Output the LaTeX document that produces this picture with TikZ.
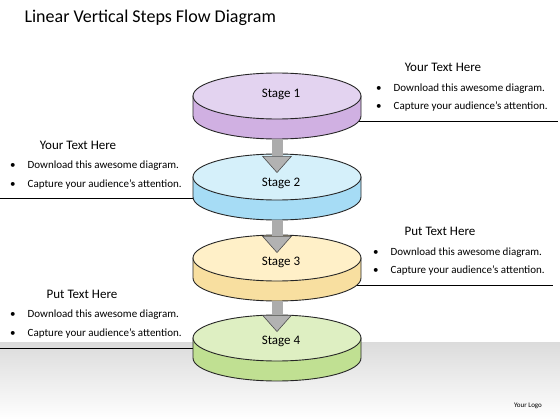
\documentclass[tikz,border=0pt]{standalone}
\usepackage{fontspec}
\setmainfont{Carlito}
\usetikzlibrary{arrows.meta}

\definecolor{topA}{RGB}{227,211,240}
\definecolor{sideA}{RGB}{208,176,226}
\definecolor{topB}{RGB}{213,240,250}
\definecolor{sideB}{RGB}{166,220,245}
\definecolor{topC}{RGB}{255,240,200}
\definecolor{sideC}{RGB}{248,223,160}
\definecolor{topD}{RGB}{222,239,194}
\definecolor{sideD}{RGB}{192,224,146}

\tikzset{
  disk/.style = {draw=black!85, line width=0.9pt},
  stage/.style = {font=\fontsize{13}{15}\selectfont},
  head/.style = {font=\fontsize{13}{15}\selectfont},
  item/.style = {anchor=west, inner sep=0pt, font=\fontsize{11}{13}\selectfont},
  rule/.style = {draw=black, line width=0.7pt},
  conn/.style = {draw=gray!65, line width=11pt,
    -{Triangle[width=30pt, length=17pt, fill=gray!60, color=black!70, line width=0.6pt]}}
}

\begin{document}
\begin{tikzpicture}[x=1pt, y=-1pt]
\useasboundingbox (0,0) rectangle (560,420);

% floor
\shade[top color=gray!28, bottom color=white] (0,342) rectangle (560,420);

% title
\node[anchor=west, font=\fontsize{18}{21}\selectfont] (title) at (21,18) {Linear Vertical Steps Flow Diagram};

% lines under the text blocks
\draw[rule] (330,121) -- (558,121);
\draw[rule] (0,198) -- (230,198);
\draw[rule] (330,285) -- (553,285);
\draw[rule] (0,348) -- (230,348);

% the four disks
\foreach \cy/\tc/\sc in {96/topA/sideA, 177/topB/sideB, 258/topC/sideC, 338/topD/sideD} {
  \filldraw[disk, fill=\sc] (193,\cy) -- (193,{\cy+20})
    arc[start angle=180, end angle=0, x radius=84, y radius=23] -- (361,\cy) -- cycle;
  \filldraw[disk, fill=\tc] (277,\cy) ellipse[x radius=84, y radius=23];
}

\coordinate (b1) at (277,139);
\coordinate (b2) at (277,220);
\coordinate (b3) at (277,301);
\coordinate (t2) at (277,173);
\coordinate (t3) at (277,253);
\coordinate (t4) at (277,332);

\draw[conn] (b1) -- (t2);
\draw[conn] (b2) -- (t3);
\draw[conn] (b3) -- (t4);

\node[stage] (s1) at (281,94) {Stage 1};
\node[stage] (s2) at (281,183) {Stage 2};
\node[stage] (s3) at (281,262) {Stage 3};
\node[stage] (s4) at (281,341) {Stage 4};

% text blocks
\node[head] (h1) at (443,67) {Your Text Here};
\node[item] (d1) at (376,89) {\textbullet\hspace{12pt}Download this awesome diagram.};
\node[item] (c1) at (376,107) {\textbullet\hspace{12pt}Capture your audience's attention.};

\node[head] (h2) at (78,145) {Your Text Here};
\node[item] (d2) at (10,166) {\textbullet\hspace{12pt}Download this awesome diagram.};
\node[item] (c2) at (10,185) {\textbullet\hspace{12pt}Capture your audience's attention.};

\node[head] (h3) at (440,231) {Put Text Here};
\node[item] (d3) at (373,253) {\textbullet\hspace{12pt}Download this awesome diagram.};
\node[item] (c3) at (373,271) {\textbullet\hspace{12pt}Capture your audience's attention.};

\node[head] (h4) at (82,294) {Put Text Here};
\node[item] (d4) at (10,315) {\textbullet\hspace{12pt}Download this awesome diagram.};
\node[item] (c4) at (10,334) {\textbullet\hspace{12pt}Capture your audience's attention.};

\node[font=\fontsize{7}{8}\selectfont] (logo) at (528,406) {Your Logo};
\end{tikzpicture}
\end{document}
